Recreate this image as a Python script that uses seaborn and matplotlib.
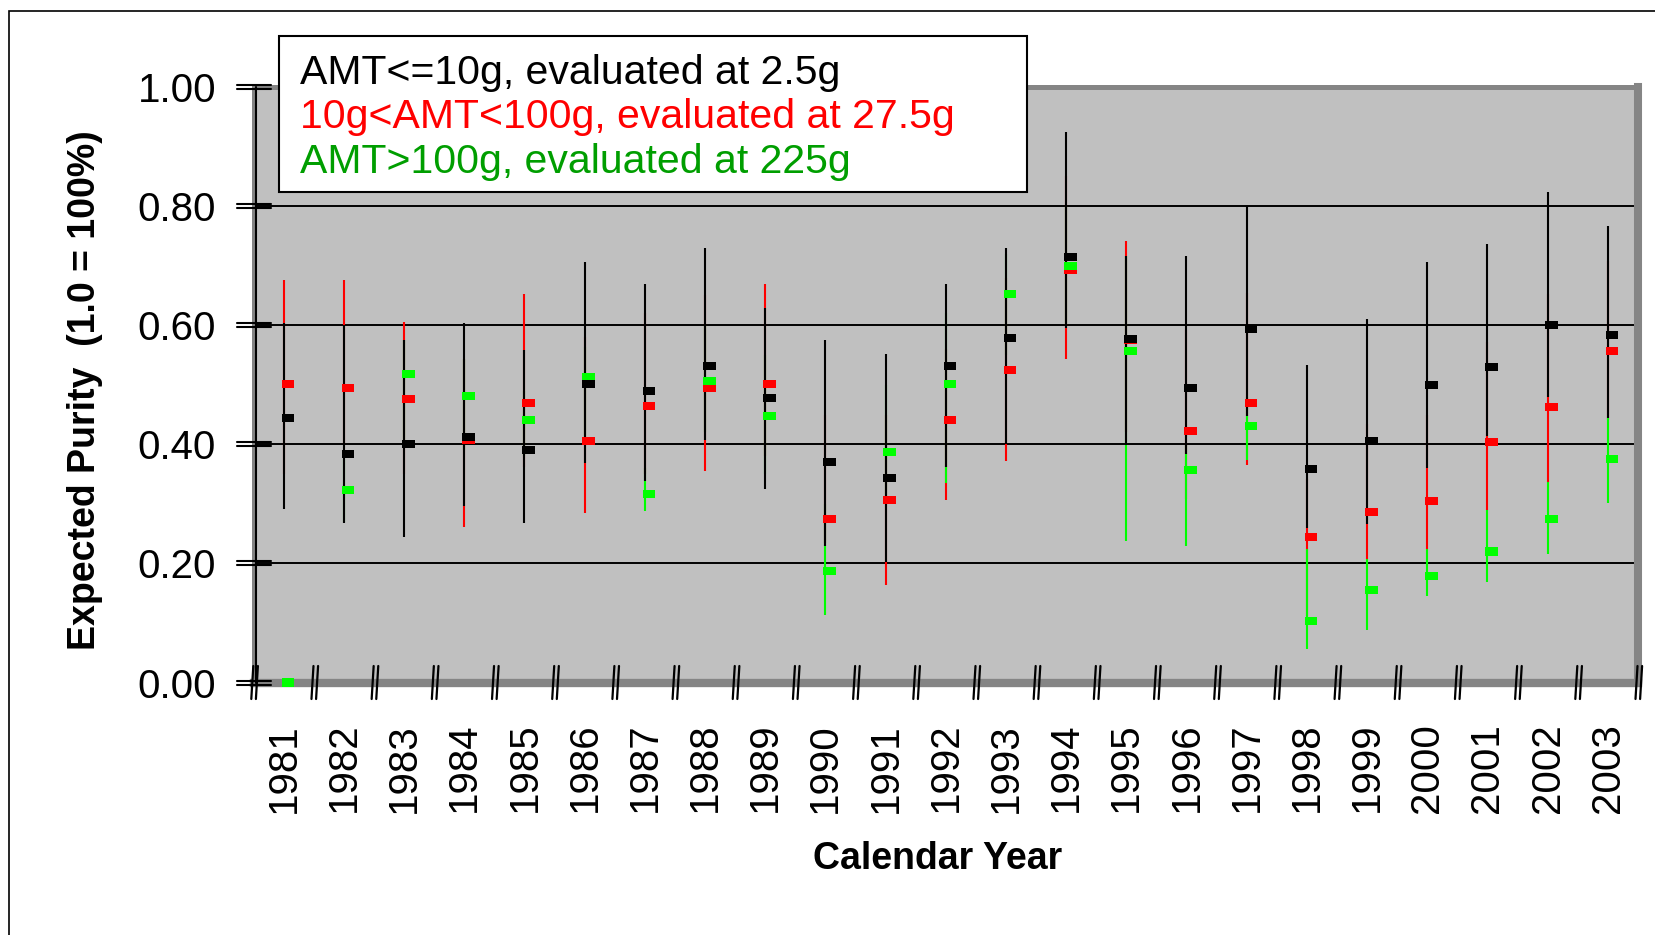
import numpy as np
import pandas as pd
import matplotlib
matplotlib.use("Agg")
import matplotlib.pyplot as plt
import seaborn as sns
from matplotlib.path import Path
from matplotlib.markers import MarkerStyle
from matplotlib.patches import Rectangle
from matplotlib.transforms import blended_transform_factory, ScaledTranslation

years = ['1981', '1982', '1983', '1984', '1985', '1986', '1987', '1988', '1989', '1990', '1991', '1992',
         '1993', '1994', '1995', '1996', '1997', '1998', '1999', '2000', '2001', '2002', '2003']

# AMT<=10g (black): estimate, low, high
small_mid = [0.444, 0.383, 0.400, 0.413, 0.390, 0.501, 0.489, 0.531, 0.477, 0.371, 0.343, 0.531,
             0.578, 0.714, 0.577, 0.494, 0.594, 0.358, 0.406, 0.500, 0.530, 0.601, 0.584]
small_lo = [0.291, 0.268, 0.244, 0.297, 0.268, 0.369, 0.338, 0.408, 0.325, 0.230, 0.202, 0.362,
            0.401, 0.596, 0.398, 0.384, 0.448, 0.259, 0.266, 0.361, 0.414, 0.479, 0.444]
small_hi = [0.604, 0.600, 0.575, 0.604, 0.558, 0.706, 0.669, 0.729, 0.629, 0.575, 0.552, 0.669,
            0.729, 0.924, 0.717, 0.716, 0.800, 0.534, 0.611, 0.706, 0.736, 0.824, 0.767]

# 10g<AMT<100g (red)
mid_mid = [0.501, 0.494, 0.476, 0.407, 0.470, 0.405, 0.464, 0.494, 0.501, 0.275, 0.306, 0.440,
           0.524, 0.693, 0.575, 0.423, 0.470, 0.244, 0.286, 0.305, 0.404, 0.463, 0.557]
mid_lo = [0.350, 0.400, 0.350, 0.261, 0.362, 0.285, 0.350, 0.355, 0.380, 0.235, 0.163, 0.307,
          0.372, 0.543, 0.420, 0.308, 0.365, 0.111, 0.208, 0.224, 0.289, 0.336, 0.440]
mid_hi = [0.676, 0.676, 0.606, 0.544, 0.652, 0.581, 0.620, 0.650, 0.669, 0.450, 0.450, 0.560,
          0.680, 0.850, 0.742, 0.592, 0.654, 0.342, 0.434, 0.450, 0.572, 0.652, 0.708]

# AMT>100g (green)
big_mid = [0.000, 0.323, 0.518, 0.481, 0.440, 0.513, 0.316, 0.506, 0.447, 0.187, 0.387, 0.501,
           0.652, 0.700, 0.557, 0.357, 0.430, 0.103, 0.156, 0.179, 0.220, 0.274, 0.376]
big_lo = [0.000, 0.270, 0.400, 0.390, 0.380, 0.400, 0.288, 0.420, 0.350, 0.114, 0.300, 0.335,
          0.550, 0.600, 0.237, 0.229, 0.373, 0.057, 0.088, 0.145, 0.169, 0.216, 0.301]
big_hi = [0.000, 0.375, 0.575, 0.544, 0.490, 0.564, 0.360, 0.600, 0.550, 0.300, 0.500, 0.620,
          0.720, 0.800, 0.717, 0.398, 0.479, 0.224, 0.208, 0.224, 0.289, 0.336, 0.444]

yticks = [0.0, 0.2, 0.4, 0.6, 0.8, 1.0]
legend_labels = ['AMT<=10g, evaluated at 2.5g', '10g<AMT<100g, evaluated at 27.5g',
                 'AMT>100g, evaluated at 225g']

sns.set_style("white")
plt.rcParams['font.family'] = ['Liberation Sans', 'DejaVu Sans']
plt.rcParams['text.color'] = 'black'
plt.rcParams['axes.labelcolor'] = 'black'
plt.rcParams['xtick.color'] = 'black'
plt.rcParams['ytick.color'] = 'black'

W, H = 1656, 935
fig = plt.figure(figsize=(W / 100, H / 100), dpi=100)
ax_l, ax_r, ax_t, ax_b = 253.6, 1637.8, 87.0, 682.5
ax = fig.add_axes([ax_l / W, 1 - ax_b / H, (ax_r - ax_l) / W, (ax_b - ax_t) / H])
ax.set_facecolor('#C0C0C0')

pos = np.arange(len(years))
cols = {'small': '#000000', 'mid': '#FF0000', 'big': '#00FF00'}

# range lines: red under green under black
ax.vlines(pos, mid_lo, mid_hi, colors=cols['mid'], lw=1.5, zorder=3)
ax.vlines(pos, big_lo, big_hi, colors=cols['big'], lw=1.5, zorder=3.2)
ax.vlines(pos, small_lo, small_hi, colors=cols['small'], lw=1.5, zorder=3.4)

df = pd.concat([
    pd.DataFrame({'pos': pos, 'value': mid_mid, 'group': 'mid'}),
    pd.DataFrame({'pos': pos, 'value': big_mid, 'group': 'big'}),
    pd.DataFrame({'pos': pos, 'value': small_mid, 'group': 'small'}),
], ignore_index=True)

# small rectangle sitting just right of the line
box = Path([(-0.2, -0.38), (1, -0.38), (1, 0.38), (-0.2, 0.38), (-0.2, -0.38)],
           [Path.MOVETO, Path.LINETO, Path.LINETO, Path.LINETO, Path.CLOSEPOLY])
sns.scatterplot(data=df, x='pos', y='value', hue='group', palette=cols, marker=MarkerStyle(box),
                s=15.2 ** 2, linewidth=0, legend=False, zorder=6, clip_on=False, ax=ax)

ax.set_xlim(-0.5, len(years) - 0.5)
ax.set_ylim(0, 1)
ax.set_yticks(yticks)
ax.set_yticklabels(['%.2f' % t for t in yticks], fontsize=29)
ax.set_xticks(pos)
ax.set_xticklabels(years, rotation=90, fontsize=29)
ax.tick_params(axis='y', length=0, pad=27, colors='black')
ax.tick_params(axis='x', length=0, pad=29, colors='black')
ax.set_xlabel('')
ax.set_ylabel('')
ax.grid(axis='y', color='black', lw=1.4)
ax.grid(axis='x', visible=False)
ax.set_axisbelow(True)

for side, lw in [('top', 3.6), ('right', 5.8), ('bottom', 6.0), ('left', 3.6)]:
    ax.spines[side].set_visible(True)
    ax.spines[side].set_color('#858585')
    ax.spines[side].set_linewidth(lw)

aw = ax_r - ax_l
ah = ax_b - ax_t
shift = lambda dx, dy: ScaledTranslation(dx / 100, dy / 100, fig.dpi_scale_trans)

# black y axis line just inside the grey wall
ax.plot([0, 0], [0, 1], transform=ax.transAxes + shift(2.5, 0), color='black', lw=1.5,
        clip_on=False, zorder=5)

# "=" marks on the value axis
ty = blended_transform_factory(ax.transAxes, ax.transData)
for t in yticks:
    for dy in (-2.0, 2.0):
        ax.plot([(237 - ax_l) / aw, (271 - ax_l) / aw], [t, t], transform=ty + shift(0, dy),
                color='black', lw=1.5, clip_on=False, zorder=7)

# "//" marks at the category boundaries
tx = blended_transform_factory(ax.transData, ax.transAxes)
slant = 2.0 / (aw / len(years))
for b in np.arange(len(years) + 1) - 0.5:
    for dx in (-2.3, 2.3):
        ax.plot([b, b + slant], [-16.5 / ah, 16.5 / ah], transform=tx + shift(dx, 0),
                color='black', lw=1.6, clip_on=False, zorder=7)

fig.text(85 / W, 1 - 390.5 / H, 'Expected Purity  (1.0 = 100%)', rotation=90, ha='center',
         va='center', fontsize=27, fontweight='bold')
fig.text(937.5 / W, 1 - 869 / H, 'Calendar Year', ha='center', va='baseline', fontsize=27,
         fontweight='bold')

# legend box
fig.patches.append(Rectangle((279 / W, 1 - 192 / H), 747.7 / W, 156 / H, transform=fig.transFigure,
                             facecolor='white', edgecolor='black', lw=1.5, zorder=8))
for lab, c, base in zip(legend_labels, ['#000000', '#FF0000', '#009E00'], [84, 128, 173]):
    fig.text(300 / W, 1 - base / H, lab, color=c, fontsize=29.5, va='baseline', ha='left', zorder=9)

# outer chart border (top and left visible)
fig.patches.append(Rectangle((8.6 / W, -0.5), 2, 1 - 10.7 / H + 0.5, transform=fig.transFigure,
                             fill=False, edgecolor='black', lw=1.2, zorder=10))

fig.savefig('out.png', dpi=100)
